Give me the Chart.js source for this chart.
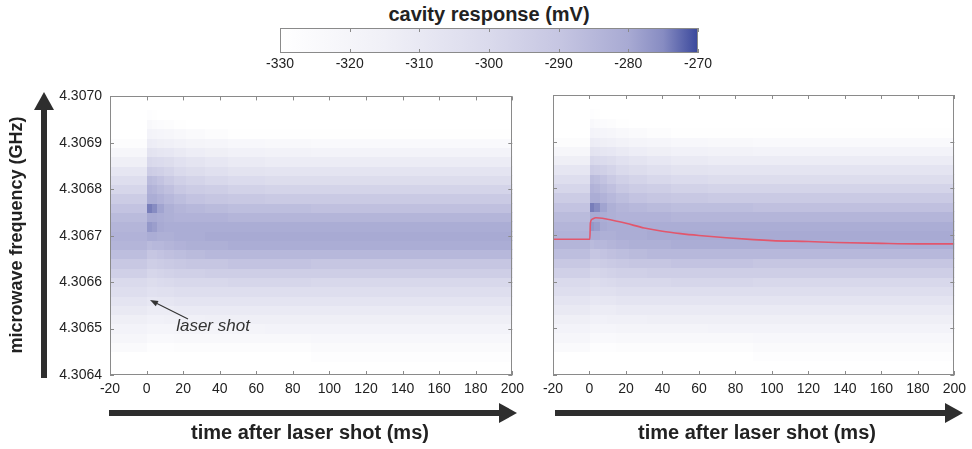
<!DOCTYPE html>
<html>
<head>
<meta charset="utf-8">
<script src="https://cdn.jsdelivr.net/npm/chart.js@4.4.0/dist/chart.umd.min.js"></script>
<style>
  body { margin: 0; width: 972px; height: 449px; background: #fff; position: relative; overflow: hidden;
         font-family: "Liberation Sans", Arial, sans-serif; color: #222; }
  .box { position: absolute; }
  .ttl { position: absolute; white-space: nowrap; transform: translate(-50%, -50%); font-weight: bold; font-size: 20px; color: #222; }
  svg { position: absolute; left: 0; top: 0; }
</style>
</head>
<body>
<div class="ttl" style="left:489px;top:14px;">cavity response (mV)</div>
<div class="box" style="left:260px;top:20px;width:460px;height:60px;"><canvas id="cbar"></canvas></div>
<div class="box" style="left:0;top:80px;width:530px;height:330px;"><canvas id="left"></canvas></div>
<div class="box" style="left:530px;top:80px;width:442px;height:330px;"><canvas id="right"></canvas></div>

<svg width="972" height="449">
  <!-- axis arrows -->
  <rect x="41" y="108" width="6" height="270" fill="#2e2e2e"/>
  <polygon points="34,110 54,110 44,92" fill="#2e2e2e"/>
  <rect x="109" y="410" width="392" height="6" fill="#2e2e2e"/>
  <polygon points="499,403 499,423 517,413" fill="#2e2e2e"/>
  <rect x="555" y="410" width="392" height="6" fill="#2e2e2e"/>
  <polygon points="945,403 945,423 963,413" fill="#2e2e2e"/>
  <!-- laser shot pointer -->
  <line x1="188" y1="319" x2="156" y2="303" stroke="#333" stroke-width="1.2"/>
  <polygon points="150,300 158.5,300.9 155.8,306.2" fill="#333"/>
</svg>

<div class="ttl" style="left:16px;top:235px;font-size:18px;transform:translate(-50%,-50%) rotate(-90deg);">microwave frequency (GHz)</div>
<div class="ttl" style="left:310px;top:432px;">time after laser shot (ms)</div>
<div class="ttl" style="left:757px;top:432px;">time after laser shot (ms)</div>
<div class="ttl" style="left:213px;top:326px;font-weight:normal;font-style:italic;font-size:17px;color:#333;">laser shot</div>

<script>
// ---- data ----
const xTicks = [-20, 0, 20, 40, 60, 80, 100, 120, 140, 160, 180, 200];
const yTicks = [4.3064, 4.3065, 4.3066, 4.3067, 4.3068, 4.3069, 4.3070];
const cbarTicks = [-330, -320, -310, -300, -290, -280, -270];

// frequency bin centres (GHz), bins are 0.00002 GHz tall
const freqCentres = [4.30644, 4.30646, 4.30648, 4.30650, 4.30652, 4.30654, 4.30656, 4.30658, 4.30660,
  4.30662, 4.30664, 4.30666, 4.30668, 4.30670, 4.30672, 4.30674, 4.30676, 4.30678, 4.30680,
  4.30682, 4.30684, 4.30686, 4.30688, 4.30690, 4.30692, 4.30694, 4.30696];
const binHeight = 0.00002;

// time slice edges (ms)
const timeEdges = [-20, 0.6, 3, 6, 10, 15, 22, 32, 45, 65, 90, 130, 200];

// cavity response (mV) per time slice, low -> high frequency
const respPre     = [-330,-325,-321,-318,-314,-310,-307,-303,-300,-295,-291,-287,-284,-283,-284,-286,-289,-293,-298,-303,-308,-314,-321,-327,-330,-330,-330];
const resp0_3     = [-330,-328,-324,-320,-316,-312,-309,-305,-302,-298,-294,-290,-286,-281,-277,-280,-274,-281,-283,-286,-293,-299,-306,-312,-318,-323,-328];
const resp3_6     = [-330,-328,-324,-320,-316,-312,-309,-305,-302,-298,-294,-290,-285,-281,-278,-280,-275,-281,-284,-287,-294,-300,-307,-313,-319,-325,-329];
const resp6_10    = [-330,-328,-324,-320,-316,-312,-308,-304,-301,-297,-293,-289,-285,-282,-280,-281,-279,-283,-286,-289,-295,-301,-308,-314,-320,-326,-330];
const resp10_15   = [-330,-328,-324,-320,-315,-312,-308,-304,-300,-296,-292,-288,-284,-282,-281,-282,-282,-285,-288,-292,-297,-302,-309,-315,-321,-327,-330];
const resp15_22   = [-330,-327,-323,-319,-315,-311,-307,-303,-299,-295,-291,-287,-283,-281,-281,-283,-284,-287,-291,-295,-300,-305,-311,-317,-323,-329,-330];
const resp22_32   = [-330,-327,-323,-319,-315,-311,-307,-303,-299,-295,-290,-286,-282,-281,-281,-283,-285,-289,-293,-297,-302,-307,-313,-319,-325,-330,-330];
const resp32_45   = [-330,-327,-323,-319,-314,-311,-307,-303,-299,-294,-290,-285,-282,-280,-281,-283,-286,-290,-294,-299,-304,-309,-314,-320,-327,-330,-330];
const resp45_65   = [-330,-327,-323,-319,-314,-311,-307,-303,-298,-294,-289,-285,-281,-280,-281,-284,-287,-291,-296,-301,-306,-311,-316,-322,-329,-330,-330];
const resp65_90   = [-330,-327,-323,-318,-314,-311,-307,-303,-298,-294,-289,-285,-281,-280,-281,-284,-287,-292,-297,-302,-307,-312,-317,-323,-329,-330,-330];
const resp90_130  = [-328,-325,-322,-318,-314,-311,-307,-303,-299,-294,-290,-285,-281,-280,-281,-284,-288,-292,-297,-302,-307,-312,-318,-324,-329,-330,-330];
const resp130_200 = [-328,-325,-322,-318,-314,-311,-307,-303,-299,-294,-290,-285,-281,-280,-281,-284,-288,-292,-297,-302,-307,-312,-318,-324,-329,-330,-330];
const responseCols = [respPre, resp0_3, resp3_6, resp6_10, resp10_15, resp15_22, resp22_32,
  resp32_45, resp45_65, resp65_90, resp90_130, resp130_200];

// fitted resonance (right panel)
const fitTime = [-20, 0.2, 0.5, 1.5, 3.5, 7, 12, 20, 30, 40, 50, 60, 75, 90, 100, 120, 135, 160, 180, 200];
const fitFreq = [4.306691, 4.306691, 4.306726, 4.306734, 4.306737, 4.306736, 4.306732, 4.306725, 4.306715,
  4.306708, 4.306703, 4.306699, 4.306694, 4.30669, 4.306688, 4.306686, 4.306684, 4.306682, 4.306681, 4.306681];

// ---- colour map ----
const cmapStops = [
  [-330, [255, 255, 255]],
  [-315, [240, 240, 247]],
  [-300, [218, 218, 236]],
  [-290, [198, 198, 226]],
  [-280, [168, 170, 211]],
  [-275, [135, 140, 194]],
  [-270, [58, 72, 156]]
];
function colourFor(v) {
  if (v <= cmapStops[0][0]) return 'rgb(' + cmapStops[0][1].join(',') + ')';
  for (let i = 1; i < cmapStops.length; i++) {
    const [v1, c1] = cmapStops[i];
    if (v <= v1) {
      const [v0, c0] = cmapStops[i - 1];
      const f = (v - v0) / (v1 - v0);
      return 'rgb(' + c0.map((c, j) => Math.round(c + (c1[j] - c) * f)).join(',') + ')';
    }
  }
  return 'rgb(' + cmapStops[cmapStops.length - 1][1].join(',') + ')';
}

Chart.defaults.font.family = '"Liberation Sans", Arial, sans-serif';
Chart.defaults.font.size = 14;
Chart.defaults.color = '#222';

const heatPlugin = {
  id: 'heat',
  beforeDatasetsDraw(chart) {
    const { ctx, chartArea: a, scales: { x, y } } = chart;
    ctx.save();
    ctx.beginPath();
    ctx.rect(a.left, a.top, a.width, a.height);
    ctx.clip();
    for (let c = 0; c < responseCols.length; c++) {
      const x0 = Math.floor(x.getPixelForValue(timeEdges[c]));
      const x1 = Math.ceil(x.getPixelForValue(timeEdges[c + 1]));
      responseCols[c].forEach((v, k) => {
        const yTop = Math.floor(y.getPixelForValue(freqCentres[k] + binHeight / 2));
        const yBot = Math.ceil(y.getPixelForValue(freqCentres[k] - binHeight / 2));
        ctx.fillStyle = colourFor(v);
        ctx.fillRect(x0, yTop, x1 - x0 + 1, yBot - yTop);
      });
    }
    ctx.restore();
  }
};

// grey frame plus MATLAB-style inward ticks
const framePlugin = {
  id: 'frame',
  afterDatasetsDraw(chart) {
    const { ctx, chartArea: a, scales } = chart;
    const L = 4;
    ctx.save();
    ctx.strokeStyle = '#8a8a8a';
    ctx.lineWidth = 1;
    ctx.beginPath();
    scales.x.ticks.forEach(t => {
      const px = Math.round(scales.x.getPixelForValue(t.value)) + 0.5;
      ctx.moveTo(px, a.bottom); ctx.lineTo(px, a.bottom - L);
      ctx.moveTo(px, a.top); ctx.lineTo(px, a.top + L);
    });
    if (scales.y && scales.y.options.display !== false) {
      scales.y.ticks.forEach(t => {
        const py = Math.round(scales.y.getPixelForValue(t.value)) + 0.5;
        ctx.moveTo(a.left, py); ctx.lineTo(a.left + L, py);
        ctx.moveTo(a.right, py); ctx.lineTo(a.right - L, py);
      });
    }
    ctx.stroke();
    ctx.strokeRect(Math.round(a.left) + 0.5, Math.round(a.top) + 0.5, Math.round(a.width) - 1, Math.round(a.height) - 1);
    ctx.restore();
  }
};

const cbarPlugin = {
  id: 'cbarFill',
  beforeDatasetsDraw(chart) {
    const { ctx, chartArea: a, scales: { x } } = chart;
    const g = ctx.createLinearGradient(a.left, 0, a.right, 0);
    cmapStops.forEach(([v, c]) => {
      const f = (x.getPixelForValue(v) - a.left) / a.width;
      g.addColorStop(Math.min(1, Math.max(0, f)), 'rgb(' + c.join(',') + ')');
    });
    ctx.save();
    ctx.fillStyle = g;
    ctx.fillRect(Math.round(a.left), Math.round(a.top), Math.round(a.width), Math.round(a.height));
    ctx.restore();
  }
};

function panelConfig(showYLabels, yWidth, padRight, withFit) {
  const datasets = [];
  if (withFit) {
    datasets.push({
      type: 'line',
      data: fitTime.map((t, i) => ({ x: t, y: fitFreq[i] })),
      borderColor: '#e2566c',
      borderWidth: 1.6,
      pointRadius: 0,
      cubicInterpolationMode: 'monotone',
      fill: false
    });
  } else {
    datasets.push({ type: 'line', data: [], pointRadius: 0 });
  }
  return {
    type: 'line',
    data: { datasets },
    options: {
      responsive: true,
      maintainAspectRatio: false,
      animation: false,
      layout: { padding: { top: 15, right: padRight, left: 0, bottom: 0 } },
      plugins: { legend: { display: false }, tooltip: { enabled: false } },
      scales: {
        x: {
          type: 'linear', min: -20, max: 200,
          afterBuildTicks: s => { s.ticks = xTicks.map(v => ({ value: v })); },
          afterFit: s => { s.height = 35; },
          grid: { display: false, drawTicks: false },
          border: { display: false },
          ticks: { padding: 6, maxRotation: 0, autoSkip: false, color: '#222', callback: v => String(v) }
        },
        y: {
          type: 'linear', min: 4.3064, max: 4.3070,
          afterBuildTicks: s => { s.ticks = yTicks.map(v => ({ value: v })); },
          afterFit: s => { s.width = yWidth; },
          grid: { display: false, drawTicks: false },
          border: { display: false },
          ticks: { display: showYLabels, padding: 8, autoSkip: false, color: '#222', callback: v => v.toFixed(4) }
        }
      }
    },
    plugins: [heatPlugin, framePlugin]
  };
}

new Chart(document.getElementById('left'), panelConfig(true, 110, 17, false));
new Chart(document.getElementById('right'), panelConfig(false, 23, 13, true));

new Chart(document.getElementById('cbar'), {
  type: 'line',
  data: { datasets: [{ data: [], pointRadius: 0, borderColor: 'rgba(0,0,0,0)' }] },
  options: {
    responsive: true,
    maintainAspectRatio: false,
    animation: false,
    layout: { padding: { top: 8, left: 20, right: 22, bottom: 0 } },
    plugins: { legend: { display: false }, tooltip: { enabled: false } },
    scales: {
      x: {
        type: 'linear', min: -330, max: -270,
        afterBuildTicks: s => { s.ticks = cbarTicks.map(v => ({ value: v })); },
        afterFit: s => { s.height = 27; },
        grid: { display: false, drawTicks: false },
        border: { display: false },
        ticks: { padding: 3, maxRotation: 0, autoSkip: false, color: '#222', callback: v => String(v) }
      },
      y: { display: false, min: 0, max: 1 }
    }
  },
  plugins: [cbarPlugin, framePlugin]
});
</script>
</body>
</html>
